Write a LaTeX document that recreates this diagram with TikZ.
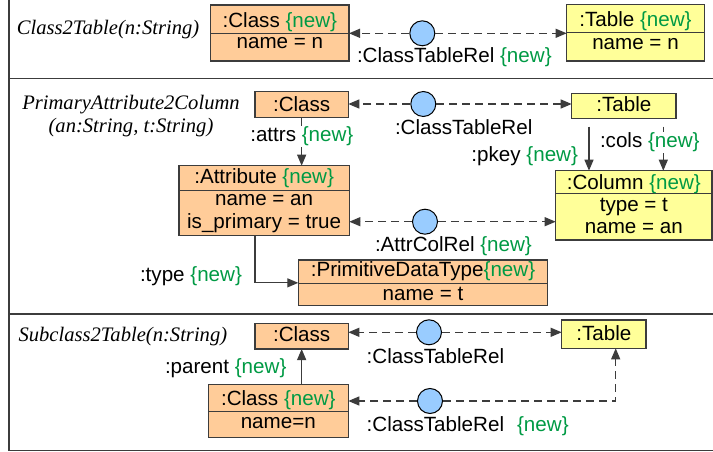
\documentclass[tikz,border=0pt]{standalone}
\usepackage{fontspec}
\setmainfont{Liberation Sans}
\newfontfamily\titlefont{Liberation Serif}
\usetikzlibrary{arrows.meta,fit}
\definecolor{orangefill}{HTML}{FFCC99}
\definecolor{yellowfill}{HTML}{FFFF99}
\definecolor{bluefill}{HTML}{99CCFF}
\definecolor{newgreen}{HTML}{009A44}
\definecolor{linegray}{HTML}{3C3C3C}
\newcommand\greennew{\textcolor{newgreen}{\{new\}}}
\tikzset{
  box/.style={draw=linegray, line width=1.2pt, inner sep=0pt, outer sep=0pt},
  obox/.style={box, fill=orangefill},
  ybox/.style={box, fill=yellowfill},
  divline/.style={draw=linegray, line width=1pt},
  txt/.style={inner sep=0pt, outer sep=0pt, font=\fontsize{20.6}{23}\selectfont, text=black},
  lbl/.style={txt, fill=white, inner xsep=2pt, inner ysep=1pt},
  ttl/.style={inner sep=0pt, font=\fontsize{20.6}{23}\selectfont\titlefont\itshape},
  rel/.style={circle, draw=black, line width=1pt, fill=bluefill, minimum size=25pt, inner sep=0pt},
  tipped/.style={-{Triangle[length=11pt,width=9pt]}},
  dlink/.style={draw=linegray, line width=1.2pt, dash pattern=on 8pt off 5pt, tipped},
  slink/.style={draw=linegray, line width=1.2pt, tipped},
  frame/.style={draw=linegray, line width=1.3pt}
}
\begin{document}
\begin{tikzpicture}[x=1pt,y=-1pt]
\useasboundingbox (0,0) rectangle (713,452);
% frame
\draw[frame] (9,0) -- (9,450.5);
\draw[frame] (9,78.3) -- (713,78.3);
\draw[frame] (9,314) -- (713,314);
\draw[frame] (9,450.5) -- (713,450.5);

% ===== Section 1 =====
\node[ttl, anchor=base west] (title1) at (16.7,35) {Class2Table(n:String)};
\node[obox, fit={(210.7,5) (349,61)}] (C1) {};
\draw[divline] (C1.west |- 0,33.7) -- (C1.east |- 0,33.7);
\node[txt, anchor=base] (C1a) at (279.85,27.3) {:Class \greennew};
\node[txt, anchor=base] (C1b) at (279.85,49) {name = n};

\node[ybox, fit={(566.7,4.3) (704.3,61)}] (T1) {};
\draw[divline] (T1.west |- 0,32.7) -- (T1.east |- 0,32.7);
\node[txt, anchor=base] (T1a) at (635.5,26.7) {:Table \greennew};
\node[txt, anchor=base] (T1b) at (635.5,49.3) {name = n};

\node[rel] (R1) at (422.3,33.3) {};
\draw[dlink] (R1) -- (R1 -| C1.east);
\draw[dlink] (R1) -- (R1 -| T1.west);
\node[txt, anchor=base west] (R1l) at (357,62.3) {:ClassTableRel \greennew};

% ===== Section 2 =====
\node[ttl, anchor=base] (title2a) at (131,110) {PrimaryAttribute2Column};
\node[ttl, anchor=base] (title2b) at (131,132) {(an:String, t:String)};

\node[obox, fit={(255,91.7) (348.3,117.7)}] (C2) {};
\node[txt, anchor=base] (C2a) at (301.65,111) {:Class};

\node[ybox, fit={(571.7,93.3) (676,118.3)}] (T2) {};
\node[txt, anchor=base] (T2a) at (623.85,111) {:Table};

\node[rel] (R2) at (423.3,104) {};
\draw[dlink] (R2) -- (R2 -| C2.east);
\draw[dlink] (R2) -- (R2 -| T2.west);
\node[txt, anchor=base west] (R2l) at (395,135) {:ClassTableRel};

\node[obox, fit={(179,165.7) (349.3,235.7)}] (A) {};
\draw[divline] (A.west |- 0,190) -- (A.east |- 0,190);
\node[txt, anchor=base] (Aa) at (264.15,183.3) {:Attribute \greennew};
\node[txt, anchor=base] (Ab) at (264.15,205) {name = an};
\node[txt, anchor=base] (Ac) at (264.15,228.3) {is\_primary = true};

\draw[slink] (C2.south) -- (A.north -| C2.south);
\node[lbl, anchor=base west] (attrsl) at (248.3,141.7) {:attrs \greennew};

\node[ybox, fit={(555.7,170.7) (712,240)}] (Col) {};
\draw[divline] (Col.west |- 0,193.3) -- (Col.east |- 0,193.3);
\node[txt, anchor=base] (Cola) at (633.85,189.3) {:Column \greennew};
\node[txt, anchor=base] (Colb) at (633.85,211) {type = t};
\node[txt, anchor=base] (Colc) at (633.85,233.3) {name = an};

\draw[slink, shorten <=8.4pt] (T2.south -| 589,0) -- (Col.north -| 589,0);
\node[txt, anchor=base east] (pkeyl) at (578,161.7) {:pkey \greennew};
\draw[slink, shorten <=8.4pt] (T2.south -| 663.3,0) -- (Col.north -| 663.3,0);
\node[lbl, anchor=base west] (colsl) at (598,147.7) {:cols \greennew};

\node[rel] (R3) at (425,221.7) {};
\draw[dlink] (R3) -- (R3 -| A.east);
\draw[dlink] (R3) -- (R3 -| Col.west);
\node[txt, anchor=base west] (R3l) at (375,251.7) {:AttrColRel \greennew};

\node[obox, fit={(298.3,260) (547.7,305.7)}] (P) {};
\draw[divline] (P.west |- 0,283.3) -- (P.east |- 0,283.3);
\node[txt, anchor=base] (Pa) at (423,276.7) {:PrimitiveDataType\greennew};
\node[txt, anchor=base] (Pb) at (423,300) {name = t};

\draw[slink] (A.south -| 255,0) |- (P.west);
\node[txt, anchor=base west] (typel) at (140,281) {:type \greennew};

% ===== Section 3 =====
\node[ttl, anchor=base west] (title3) at (18.3,341.7) {Subclass2Table(n:String)};

\node[obox, fit={(255,323.3) (348.3,349)}] (C3) {};
\node[txt, anchor=base] (C3a) at (301.65,341.7) {:Class};

\node[ybox, fit={(561.7,320) (646,348.3)}] (T3) {};
\node[txt, anchor=base] (T3a) at (603.85,340) {:Table};

\node[rel] (R4) at (429,332.3) {};
\draw[dlink] (R4) -- (R4 -| C3.east);
\draw[dlink] (R4) -- (R4 -| T3.west);
\node[txt, anchor=base west] (R4l) at (366.7,363.3) {:ClassTableRel};

\node[obox, fit={(208.3,384.3) (348.3,437.3)}] (C4) {};
\draw[divline] (C4.west |- 0,411) -- (C4.east |- 0,411);
\node[txt, anchor=base] (C4a) at (278.3,405) {:Class \greennew};
\node[txt, anchor=base] (C4b) at (278.3,428.3) {name=n};

\draw[slink] (C4.north -| C3.south) -- (C3.south);
\node[txt, anchor=base west] (parentl) at (165,373.3) {:parent \greennew};

\node[rel] (R5) at (430,401) {};
\draw[dlink] (R5) -- (R5 -| C4.east);
\draw[dlink] (R5) -| (T3.south -| 615.7,0);
\node[txt, anchor=base west] (R5l) at (366.7,431.7) {:ClassTableRel\hspace{13pt}\greennew};
\end{tikzpicture}
\end{document}
